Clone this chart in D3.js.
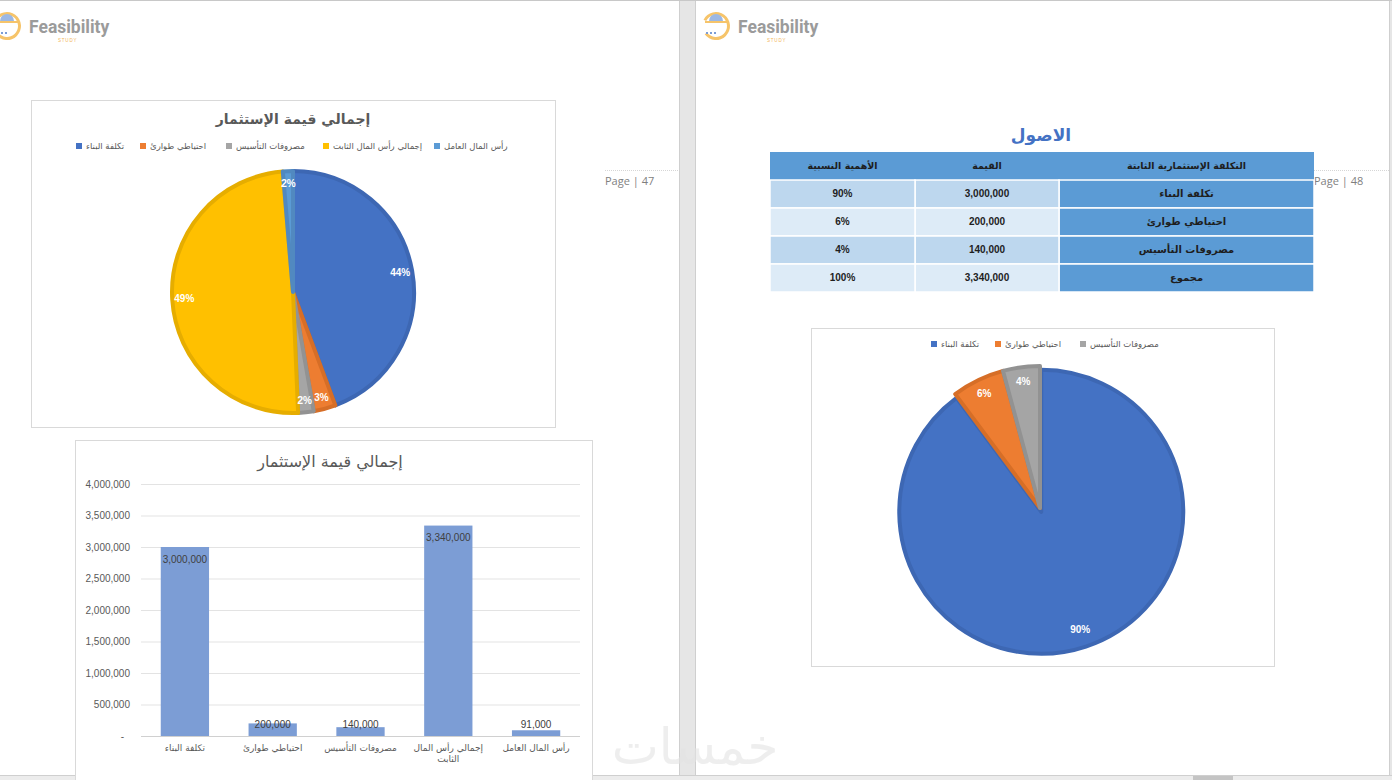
<!DOCTYPE html>
<html>
<head>
<meta charset="utf-8">
<script src="https://cdn.jsdelivr.net/npm/d3@7/dist/d3.min.js"></script>
<style>
    html, body { margin: 0; padding: 0; background: #ffffff; overflow: hidden; }
    svg { display: block; }
    .ar { font-family: "DejaVu Sans", "Noto Sans", sans-serif; }
    .num { font-family: "Liberation Sans", Arial, sans-serif; }
</style>
</head>
<body>
<svg id="page" width="1392" height="780"></svg>
<script>
(function() {

    //  Chart data

    var investCategories = ['تكلفة البناء', 'احتياطي طوارئ', 'مصروفات التأسيس', 'إجمالي رأس المال الثابت', 'رأس المال العامل'];
    var investValues = [3000000, 200000, 140000, 3340000, 91000];
    var investPieLabels = ['44%', '3%', '2%', '49%', '2%'];
    var investColors = ['#4472c4', '#ed7d31', '#a5a5a5', '#ffc000', '#5b9bd5'];
    var investStrokes = ['#3d67b3', '#d66e27', '#929292', '#e6ad00', '#5189c0'];

    var barTicks = [0, 500000, 1000000, 1500000, 2000000, 2500000, 3000000, 3500000, 4000000];
    var barXLabels = [['تكلفة البناء'], ['احتياطي طوارئ'], ['مصروفات التأسيس'], ['إجمالي رأس المال', 'الثابت'], ['رأس المال العامل']];

    var tableHeader = ['التكلفة الإستثمارية الثابتة', 'القيمة', 'الأهمية النسبية'];
    var assetItems = ['تكلفة البناء', 'احتياطي طوارئ', 'مصروفات التأسيس', 'مجموع'];
    var assetValues = [3000000, 200000, 140000, 3340000];
    var assetShares = ['90%', '6%', '4%', '100%'];

    var assetPieValues = [3000000, 200000, 140000];
    var assetPieLabels = ['90%', '6%', '4%'];

    var fmt = d3.format(',');
    var svg = d3.select('#page');


    //  Page background, gaps and borders

    svg.append('rect').attr('x', 679).attr('y', 0).attr('width', 16).attr('height', 780).attr('fill', '#e6e6e6');
    svg.append('rect').attr('x', 1390).attr('y', 0).attr('width', 2).attr('height', 780).attr('fill', '#e6e6e6');
    svg.append('line').attr('x1', 679.5).attr('x2', 679.5).attr('y1', 0).attr('y2', 775).attr('stroke', '#cfcfcf');
    svg.append('line').attr('x1', 695.5).attr('x2', 695.5).attr('y1', 0).attr('y2', 775).attr('stroke', '#cfcfcf');
    svg.append('line').attr('x1', 1389.5).attr('x2', 1389.5).attr('y1', 0).attr('y2', 775).attr('stroke', '#cfcfcf');
    svg.append('line').attr('x1', 0).attr('x2', 1392).attr('y1', 0.5).attr('y2', 0.5).attr('stroke', '#c8c8c8');
    svg.append('rect').attr('x', 0).attr('y', 775).attr('width', 1392).attr('height', 5).attr('fill', '#ececec');
    svg.append('line').attr('x1', 0).attr('x2', 1392).attr('y1', 775.5).attr('y2', 775.5).attr('stroke', '#cfcfcf');
    svg.append('rect').attr('x', 1193).attr('y', 776).attr('width', 40).attr('height', 4).attr('fill', '#c4c4c4');

    //  header lines + page numbers
    [[605, 679, 'Page | 47'], [1314, 1390, 'Page | 48']].forEach(function(p) {
        svg.append('line').attr('x1', p[0]).attr('x2', p[1]).attr('y1', 170.5).attr('y2', 170.5)
            .attr('stroke', '#d6d6d6').attr('stroke-dasharray', '1,1');
        svg.append('text').attr('x', p[0]).attr('y', 185).attr('font-family', '"Open Sans", sans-serif')
            .attr('font-size', 11).attr('fill', '#7f7f7f').text(p[2]);
    });


    //  Logo

    function drawLogo(ox) {
        var g = svg.append('g').attr('transform', 'translate(' + ox + ',0)');
        g.append('path')
            .attr('d', d3.arc()({ innerRadius: 11, outerRadius: 14, startAngle: -Math.PI * 0.35, endAngle: Math.PI * 1.3 }))
            .attr('transform', 'translate(16,26)').attr('fill', '#f6c46a');
        g.append('path')
            .attr('d', d3.arc()({ innerRadius: 0, outerRadius: 7, startAngle: -Math.PI / 2, endAngle: Math.PI / 2 }))
            .attr('transform', 'translate(16,21)').attr('fill', '#9cb8e4');
        g.append('rect').attr('x', 5).attr('y', 21).attr('width', 22).attr('height', 2).attr('fill', '#f6c46a');
        [6, 10, 14].forEach(function(dx) {
            g.append('rect').attr('x', dx).attr('y', 32).attr('width', 2).attr('height', 2).attr('fill', '#7c9dd5');
        });
        g.append('text').attr('x', 38).attr('y', 33).attr('font-family', 'Roboto, "Liberation Sans", sans-serif')
            .attr('font-weight', 700).attr('font-size', 17.5).attr('fill', '#9b9b9b').text('Feasibility');
        g.append('text').attr('x', 67).attr('y', 42).attr('font-family', '"Liberation Sans", sans-serif')
            .attr('font-size', 4.5).attr('letter-spacing', 0.8).attr('fill', '#f2b65a').text('STUDY');
    }
    drawLogo(-9);
    drawLogo(700);


    //  Pie chart helper

    function drawPie(opts) {
        var g = svg.append('g');
        var arcs = d3.pie().sort(null)(opts.values);
        var arc = d3.arc().innerRadius(0).outerRadius(opts.r);
        var labelArc = d3.arc().innerRadius(opts.r * opts.labelPos).outerRadius(opts.r * opts.labelPos);

        arcs.forEach(function(a, i) {
            var off = (opts.explode && opts.explode[i]) || 0;
            var mid = (a.startAngle + a.endAngle) / 2;
            var ox = opts.cx + Math.sin(mid) * off, oy = opts.cy - Math.cos(mid) * off;
            g.append('path')
                .attr('d', arc(a))
                .attr('transform', 'translate(' + ox + ',' + oy + ')')
                .attr('fill', opts.colors[i])
                .attr('stroke', opts.strokes[i])
                .attr('stroke-width', 4)
                .attr('stroke-linejoin', 'round');
        });
        arcs.forEach(function(a, i) {
            var c = labelArc.centroid(a);
            g.append('text')
                .attr('class', 'num')
                .attr('x', opts.cx + c[0]).attr('y', opts.cy + c[1] + 3.5)
                .attr('text-anchor', 'middle')
                .attr('font-size', 10).attr('font-weight', 700)
                .attr('fill', '#ffffff')
                .text(opts.labels[i]);
        });
    }

    function drawLegend(items, colors, positions, y) {
        items.forEach(function(name, i) {
            svg.append('rect').attr('x', positions[i]).attr('y', y - 6).attr('width', 6).attr('height', 6).attr('fill', colors[i]);
            svg.append('text').attr('class', 'ar')
                .attr('x', positions[i] + 10).attr('y', y)
                .attr('direction', 'rtl').attr('text-anchor', 'end')
                .attr('font-size', 8.5).attr('fill', '#595959')
                .text(name);
        });
    }


    //  Pie 1 : total investment

    svg.append('rect').attr('x', 31.5).attr('y', 100.5).attr('width', 524).attr('height', 327)
        .attr('fill', '#ffffff').attr('stroke', '#d9d9d9');
    svg.append('text').attr('class', 'ar').attr('x', 293).attr('y', 124).attr('text-anchor', 'middle')
        .attr('font-size', 14).attr('font-weight', 700).attr('fill', '#595959').text('إجمالي قيمة الإستثمار');
    drawLegend(investCategories, investColors, [76, 140, 226, 323, 434], 149);
    drawPie({
        cx: 293, cy: 292, r: 121, labelPos: 0.9,
        values: investValues, labels: investPieLabels,
        colors: investColors, strokes: investStrokes
    });


    //  Bar chart : total investment

    svg.append('rect').attr('x', 75.5).attr('y', 440.5).attr('width', 517).attr('height', 340)
        .attr('fill', '#ffffff').attr('stroke', '#d9d9d9');
    svg.append('text').attr('class', 'ar').attr('x', 330).attr('y', 467).attr('text-anchor', 'middle')
        .attr('font-size', 16).attr('fill', '#595959').text('إجمالي قيمة الإستثمار');

    var x = d3.scaleBand().domain(investCategories).range([141, 580]).paddingInner(0.45).paddingOuter(0.225);
    var y = d3.scaleLinear().domain([0, 4000000]).range([736, 484]);

    var grid = svg.append('g').attr('transform', 'translate(141,0)')
        .call(d3.axisLeft(y).tickValues(barTicks).tickSize(-439).tickFormat(''));
    grid.select('.domain').remove();
    grid.selectAll('line').attr('stroke', '#e3e3e3');

    var yAxis = svg.append('g').attr('transform', 'translate(130,0)')
        .call(d3.axisLeft(y).tickValues(barTicks).tickSize(0).tickPadding(0)
            .tickFormat(function(d) { return d === 0 ? '-' : fmt(d); }));
    yAxis.select('.domain').remove();
    yAxis.selectAll('text').attr('class', 'num').attr('font-size', 10).attr('fill', '#595959');
    yAxis.selectAll('.tick').filter(function(d) { return d === 0; }).select('text').attr('x', -6);

    svg.append('line').attr('x1', 141).attr('x2', 580).attr('y1', y(0) + 0.5).attr('y2', y(0) + 0.5).attr('stroke', '#d0d0d0');

    svg.selectAll('rect.bar').data(investValues).enter().append('rect')
        .attr('class', 'bar')
        .attr('x', function(d, i) { return x(investCategories[i]); })
        .attr('y', function(d) { return y(d); })
        .attr('width', x.bandwidth())
        .attr('height', function(d) { return y(0) - y(d); })
        .attr('fill', '#7c9dd5');

    svg.selectAll('text.barlabel').data(investValues).enter().append('text')
        .attr('class', 'num')
        .attr('x', function(d, i) { return x(investCategories[i]) + x.bandwidth() / 2; })
        .attr('y', function(d) { return (y(0) - y(d) > 30 ? y(d) + 12 : y(0) - 12) + 3.5; })
        .attr('text-anchor', 'middle')
        .attr('font-size', 10).attr('fill', '#404040')
        .text(function(d) { return fmt(d); });

    barXLabels.forEach(function(lines, i) {
        var t = svg.append('text').attr('class', 'ar')
            .attr('text-anchor', 'middle').attr('font-size', 9).attr('fill', '#595959');
        lines.forEach(function(line, j) {
            t.append('tspan').attr('x', x(investCategories[i]) + x.bandwidth() / 2)
                .attr('y', 751 + j * 11).text(line);
        });
    });


    //  Assets title + table

    svg.append('text').attr('class', 'ar').attr('x', 1041).attr('y', 141).attr('text-anchor', 'middle')
        .attr('font-size', 17).attr('font-weight', 700).attr('fill', '#4472c4').text('الاصول');

    var colX = [1059, 915, 770];
    var colW = [255, 144, 145];
    var rowY = [152, 180, 208, 236, 264];
    var rowH = 28;

    //  header row spans all columns
    svg.append('rect').attr('x', 770).attr('y', rowY[0]).attr('width', 544).attr('height', rowH).attr('fill', '#5b9bd5');
    tableHeader.forEach(function(h, c) {
        svg.append('text').attr('class', 'ar').attr('x', colX[c] + colW[c] / 2).attr('y', rowY[0] + 17)
            .attr('text-anchor', 'middle').attr('font-size', 9.5).attr('font-weight', 700)
            .attr('fill', '#1e1e1e').text(h);
    });

    assetItems.forEach(function(item, r) {
        var yy = rowY[r + 1];
        var light = r % 2 === 0 ? '#bdd7ee' : '#ddebf7';
        var cells = [item, fmt(assetValues[r]), assetShares[r]];
        cells.forEach(function(v, c) {
            svg.append('rect').attr('x', colX[c]).attr('y', yy).attr('width', colW[c]).attr('height', rowH)
                .attr('fill', c === 0 ? '#5b9bd5' : light)
                .attr('stroke', '#ffffff').attr('stroke-width', 1.5);
            svg.append('text').attr('class', c === 0 ? 'ar' : 'num')
                .attr('x', colX[c] + colW[c] / 2).attr('y', yy + 17)
                .attr('text-anchor', 'middle').attr('font-size', 10)
                .attr('font-weight', 700).attr('fill', '#1e1e1e').text(v);
        });
    });


    //  Pie 2 : assets

    svg.append('rect').attr('x', 811.5).attr('y', 328.5).attr('width', 463).attr('height', 338)
        .attr('fill', '#ffffff').attr('stroke', '#d9d9d9');
    drawLegend(assetItems.slice(0, 3), investColors, [931, 995, 1080], 347);
    drawPie({
        cx: 1040, cy: 508, r: 142, labelPos: 0.9,
        values: assetPieValues, labels: assetPieLabels,
        colors: investColors, strokes: investStrokes,
        explode: [4, 0, 0]
    });


    //  Watermark

    svg.append('text').attr('class', 'ar').attr('x', 695).attr('y', 764).attr('text-anchor', 'middle')
        .attr('font-size', 50).attr('fill', '#e4e4e4').attr('opacity', 0.6)
        .text('خمسات');

})();
</script>
</body>
</html>
